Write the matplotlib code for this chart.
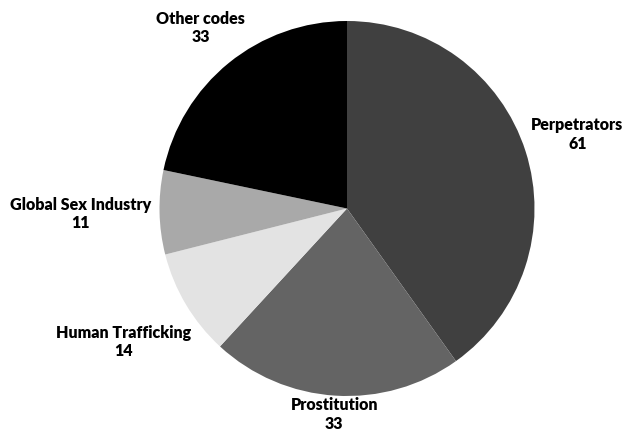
import numpy as np
import matplotlib.pyplot as plt

plt.rcParams['font.family'] = ['Lato', 'DejaVu Sans']

labels = ['Perpetrators', 'Prostitution', 'Human Trafficking', 'Global Sex Industry', 'Other codes']
values = [61, 33, 14, 11, 33]
colors = ['#404040', '#646464', '#e3e3e3', '#a9a9a9', '#000000']
label_dist = [1.29, 1.10, 1.39, 1.42, 1.24]

fig = plt.figure(figsize=(6.25, 4.33), dpi=100)
ax = fig.add_axes([0, 0, 1, 1])
cx, cy, r = 347, 433 - 208.5, 187.5
wedges, _ = ax.pie(values, colors=colors, startangle=90, counterclock=False,
                   center=(cx, cy), radius=r, wedgeprops=dict(linewidth=0))

for w, lab, v, d in zip(wedges, labels, values, label_dist):
    ang = np.deg2rad((w.theta1 + w.theta2) / 2)
    x = cx + d * r * np.cos(ang)
    y = cy + d * r * np.sin(ang)
    ax.text(x, y, lab + '\n' + str(v), ha='center', va='center', fontsize=11.5,
            fontweight='heavy', color='#000000', linespacing=1.2)

ax.set_xlim(0, 625)
ax.set_ylim(0, 433)
ax.set_aspect('equal')
ax.axis('off')
fig.savefig('out.png', dpi=100, facecolor='white')
